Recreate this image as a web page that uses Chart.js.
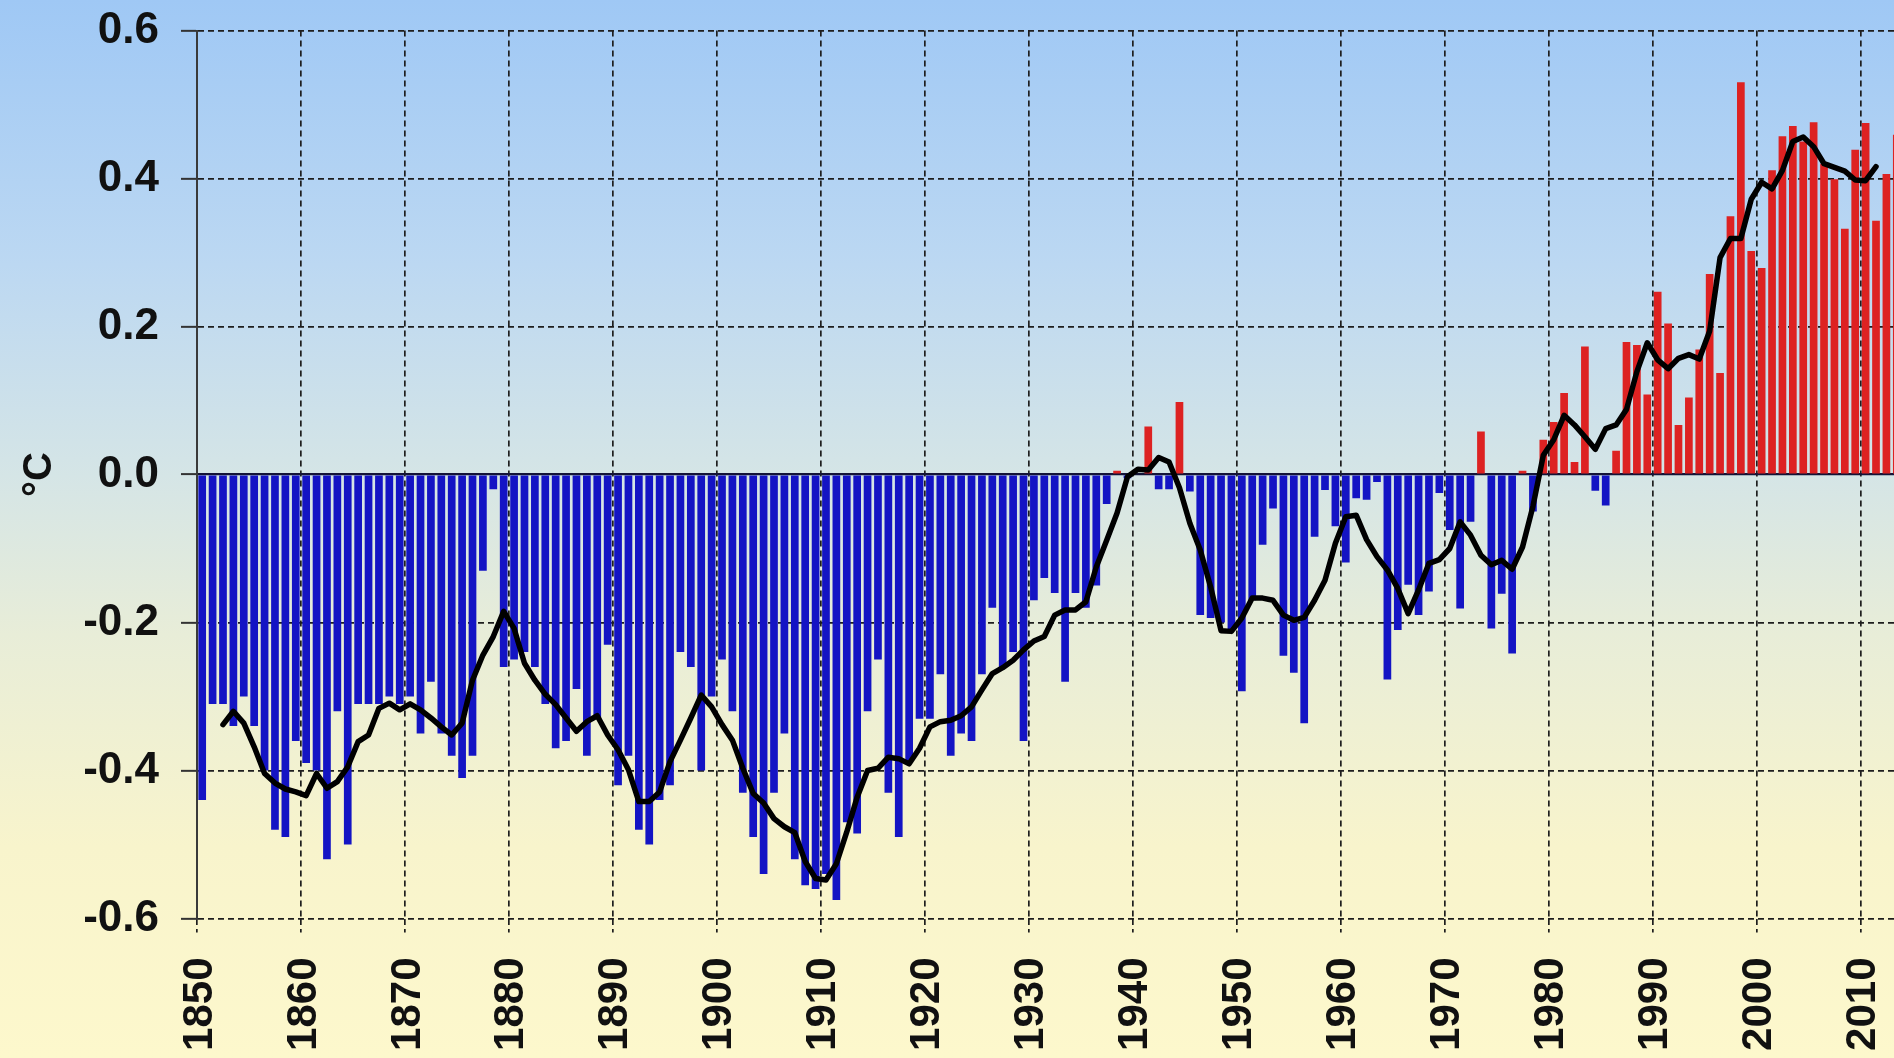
<!DOCTYPE html>
<html>
<head>
<meta charset="utf-8">
<script src="https://cdn.jsdelivr.net/npm/chart.js@4/dist/chart.umd.min.js"></script>
<style>
html, body { margin: 0; padding: 0; width: 1894px; height: 1058px; overflow: hidden; }
body { background: linear-gradient(to bottom, #9fc8f5 0%, #bcd8f2 25%, #d5e5e6 45%, #e8edd8 60%, #f8f4cc 80%, #fdf8cc 100%); }
#wrap { position: absolute; left: 0; top: 0; width: 1902px; height: 1058px; }
</style>
</head>
<body>
<div id="wrap"><canvas id="c" width="1902" height="1058"></canvas></div>
<script>
// ---- data ----
const firstYear = 1850;
const anomalies = [
  -0.44, -0.31, -0.31, -0.34, -0.30, -0.34, -0.40, -0.48, -0.49, -0.36,   // 1850-1859
  -0.39, -0.40, -0.52, -0.32, -0.50, -0.31, -0.31, -0.31, -0.30, -0.31,   // 1860-1869
  -0.30, -0.35, -0.28, -0.35, -0.38, -0.41, -0.38, -0.13, -0.02, -0.26,   // 1870-1879
  -0.25, -0.24, -0.26, -0.31, -0.37, -0.36, -0.29, -0.38, -0.33, -0.23,   // 1880-1889
  -0.42, -0.38, -0.48, -0.50, -0.44, -0.42, -0.24, -0.26, -0.40, -0.30,   // 1890-1899
  -0.25, -0.32, -0.43, -0.49, -0.54, -0.43, -0.35, -0.52, -0.555, -0.56,  // 1900-1909
  -0.54, -0.575, -0.47, -0.485, -0.32, -0.25, -0.43, -0.49, -0.39, -0.33, // 1910-1919
  -0.33, -0.27, -0.38, -0.35, -0.36, -0.27, -0.18, -0.26, -0.24, -0.36,   // 1920-1929
  -0.17, -0.14, -0.16, -0.28, -0.16, -0.18, -0.15, -0.04, 0.005, -0.005,  // 1930-1939
  0.0, 0.065, -0.02, -0.02, 0.098, -0.023, -0.19, -0.194, -0.20, -0.21,   // 1940-1949
  -0.293, -0.17, -0.095, -0.046, -0.245, -0.268, -0.336, -0.084, -0.021, -0.07, // 1950-1959
  -0.119, -0.032, -0.034, -0.01, -0.277, -0.21, -0.149, -0.19, -0.158, -0.025,  // 1960-1969
  -0.075, -0.181, -0.064, 0.058, -0.208, -0.161, -0.242, 0.005, -0.05, 0.047,   // 1970-1979
  0.071, 0.110, 0.017, 0.173, -0.022, -0.042, 0.032, 0.179, 0.175, 0.108,       // 1980-1989
  0.247, 0.204, 0.067, 0.104, 0.169, 0.271, 0.137, 0.349, 0.530, 0.302,        // 1990-1999
  0.279, 0.411, 0.457, 0.471, 0.450, 0.476, 0.420, 0.399, 0.332, 0.439,        // 2000-2009
  0.475, 0.343, 0.406, 0.459                                                    // 2010-2013
];
const smoothFirstYear = 1852;
const smoothed = [
  -0.338, -0.320, -0.336, -0.368, -0.404, -0.417, -0.425, -0.429,               // 1852-1859
  -0.434, -0.404, -0.424, -0.415, -0.395, -0.361, -0.352, -0.316, -0.309, -0.318, // 1860-1869
  -0.310, -0.318, -0.329, -0.341, -0.352, -0.336, -0.278, -0.244, -0.219, -0.185, // 1870-1879
  -0.208, -0.255, -0.278, -0.297, -0.311, -0.329, -0.347, -0.334, -0.326, -0.352, // 1880-1889
  -0.372, -0.399, -0.442, -0.442, -0.429, -0.388, -0.359, -0.329, -0.298, -0.314, // 1890-1899
  -0.338, -0.359, -0.397, -0.431, -0.444, -0.465, -0.476, -0.484, -0.523, -0.546, // 1900-1909
  -0.548, -0.526, -0.483, -0.436, -0.400, -0.397, -0.382, -0.384, -0.391, -0.370, // 1910-1919
  -0.341, -0.334, -0.332, -0.326, -0.314, -0.291, -0.269, -0.261, -0.251, -0.237, // 1920-1929
  -0.225, -0.219, -0.190, -0.183, -0.183, -0.172, -0.125, -0.089, -0.052, -0.003, // 1930-1939
  0.007, 0.006, 0.023, 0.017, -0.018, -0.066, -0.102, -0.152, -0.211, -0.212,     // 1940-1949
  -0.194, -0.167, -0.167, -0.170, -0.190, -0.197, -0.193, -0.170, -0.143, -0.093, // 1950-1959
  -0.057, -0.055, -0.088, -0.111, -0.129, -0.154, -0.188, -0.156, -0.120, -0.115, // 1960-1969
  -0.100, -0.064, -0.082, -0.109, -0.122, -0.116, -0.128, -0.098, -0.043, 0.026,  // 1970-1979
  0.047, 0.080, 0.067, 0.051, 0.034, 0.062, 0.067, 0.088, 0.139, 0.178,           // 1980-1989
  0.155, 0.143, 0.157, 0.162, 0.156, 0.194, 0.293, 0.319, 0.319, 0.372,           // 1990-1999
  0.395, 0.386, 0.411, 0.450, 0.456, 0.443, 0.420, 0.415, 0.410, 0.398,           // 2000-2009
  0.397, 0.416                                                                    // 2010-2011
];
const decadeTicks = [1850, 1860, 1870, 1880, 1890, 1900, 1910, 1920, 1930, 1940, 1950, 1960, 1970, 1980, 1990, 2000, 2010];
const yTicks = [-0.6, -0.4, -0.2, 0.0, 0.2, 0.4, 0.6];
const xRange = [1850, 2014];
const yRange = [-0.6, 0.6];
const yTitle = '°C';

// ---- build ----
const years = anomalies.map((_, i) => firstYear + i);
const smoothYears = smoothed.map((_, i) => smoothFirstYear + i);
const barPoints = years.map((y, i) => ({ x: y + 0.5, y: anomalies[i] }));
const linePoints = smoothYears.map((y, i) => ({ x: y + 0.5, y: smoothed[i] }));

const FONT = "'Liberation Sans', Arial, sans-serif";
const isZero = (ctx) => ctx.tick && Math.abs(ctx.tick.value) < 1e-9;

new Chart(document.getElementById('c'), {
  type: 'bar',
  data: {
    datasets: [
      {
        type: 'line',
        data: linePoints,
        borderColor: '#000000',
        borderWidth: 5.5,
        pointRadius: 0,
        tension: 0,
        borderJoinStyle: 'round',
        borderCapStyle: 'round',
        order: 1
      },
      {
        type: 'bar',
        data: barPoints,
        backgroundColor: (ctx) => (ctx.raw && ctx.raw.y > 0) ? '#dd2222' : '#1414c4',
        borderWidth: 0,
        barPercentage: 0.74,
        categoryPercentage: 1.0,
        order: 2
      }
    ]
  },
  options: {
    responsive: false,
    animation: false,
    devicePixelRatio: 1,
    layout: { padding: { top: 30.5, left: 0, right: 0, bottom: 0 } },
    plugins: { legend: { display: false }, tooltip: { enabled: false } },
    scales: {
      x: {
        type: 'linear',
        min: xRange[0],
        max: xRange[1],
        offset: false,
        afterBuildTicks: (axis) => { axis.ticks = decadeTicks.map(v => ({ value: v })); },
        afterFit: (s) => { s.height = 139.5; s.paddingLeft = 0; s.paddingRight = 0; },
        ticks: {
          autoSkip: false,
          maxRotation: 90,
          minRotation: 90,
          padding: 25,
          labelOffset: 3,
          color: '#111111',
          font: { family: FONT, size: 42, weight: 'bold' },
          callback: (v) => String(v)
        },
        grid: {
          offset: false,
          color: '#1e1e1e',
          lineWidth: 1.7,
          tickLength: 14,
          tickBorderDash: [6, 4]
        },
        border: { display: false, dash: [6, 4] }
      },
      y: {
        min: yRange[0],
        max: yRange[1],
        afterBuildTicks: (axis) => { axis.ticks = yTicks.map(v => ({ value: v })); },
        afterFit: (s) => { s.width = 197; s.paddingTop = 0; s.paddingBottom = 0; },
        ticks: {
          padding: 22,
          color: '#111111',
          font: { family: FONT, size: 44, weight: 'bold' },
          callback: (v) => Number(v).toFixed(1)
        },
        grid: {
          color: (ctx) => isZero(ctx) ? '#141438' : '#1e1e1e',
          lineWidth: (ctx) => isZero(ctx) ? 2.2 : 1.7,
          tickLength: 16,
          tickColor: '#333333',
          tickWidth: 2,
          tickBorderDash: []
        },
        border: {
          display: true,
          color: '#3a3a3a',
          width: 2,
          dash: (ctx) => (ctx.tick && !isZero(ctx)) ? [6, 4] : []
        },
        title: {
          display: true,
          text: yTitle,
          color: '#111111',
          font: { family: FONT, size: 40, weight: 'bold' },
          padding: { top: 16, bottom: 0 }
        }
      }
    }
  }
});
</script>
</body>
</html>
